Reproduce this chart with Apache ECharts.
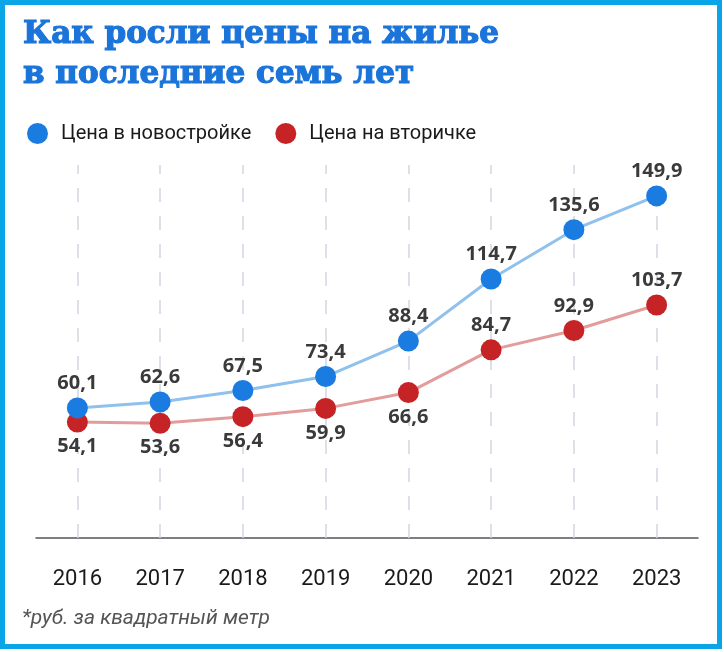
<!DOCTYPE html>
<html><head><meta charset="utf-8">
<script src="https://cdn.jsdelivr.net/npm/echarts@6/dist/echarts.min.js"></script>
<style>
html,body{margin:0;padding:0;background:#fff;}
#chart{position:absolute;left:0;top:0;width:724px;height:652px;}
#frame{position:absolute;left:0;top:0;width:712px;height:639px;border:5px solid #0aa5e6;pointer-events:none;}
</style></head>
<body>
<div id="chart"></div>
<div id="frame"></div>
<script>
const years = ['2016','2017','2018','2019','2020','2021','2022','2023'];
const newBuild = [60.1, 62.6, 67.5, 73.4, 88.4, 114.7, 135.6, 149.9];
const secondary = [54.1, 53.6, 56.4, 59.9, 66.6, 84.7, 92.9, 103.7];
const redLabelBelow = [true, true, true, true, true, false, false, false];
const titleText = 'Как росли цены на жилье\nв последние семь лет';
const seriesNames = ['Цена в новостройке', 'Цена на вторичке'];
const footnote = '*руб. за квадратный метр';

const fmt = v => String(v).replace('.', ',');
const sansFont = 'Roboto, "Noto Sans", sans-serif';
const labelFont = {fontFamily:'Open Sans', fontWeight:'bold', fontSize:20, color:'#3a3a3a'};

const chart = echarts.init(document.getElementById('chart'));
chart.setOption({
  backgroundColor:'#fff',
  animation:false,
  title:{
    text:titleText, left:18, top:10,
    textStyle:{fontFamily:'DejaVu Serif', fontWeight:'bold', fontSize:31, lineHeight:40, color:'#1a74da',
      textBorderColor:'#1a74da', textBorderWidth:1.2}
  },
  legend:{
    left:22, top:118, itemWidth:21, itemHeight:21, itemGap:24, icon:'circle',
    textStyle:{fontFamily:sansFont, fontSize:20, color:'#1a1a1a', padding:[0,0,0,8]},
    data:seriesNames
  },
  graphic:[{
    type:'text', left:22, top:608,
    style:{text:footnote, fontFamily:sansFont, fontStyle:'italic', fontSize:21, fill:'#555'}
  }],
  grid:{left:36, right:26, top:165, bottom:114},
  xAxis:{
    type:'category', data:years, boundaryGap:true,
    axisLine:{lineStyle:{color:'#555', width:1.5}},
    axisTick:{show:false},
    axisLabel:{margin:30, fontFamily:sansFont, fontSize:22, color:'#1a1a1a'},
    splitLine:{show:false}
  },
  yAxis:{type:'value', min:5, max:163, show:false, splitLine:{show:false}},
  series:[
    {
      name:'grid', type:'line', data:[], z:1, silent:true,
      markLine:{
        z:1, silent:true, symbol:'none', label:{show:false},
        lineStyle:{color:'#d3d6e2', type:[14,14], width:1.5},
        data:years.map(y=>({xAxis:y}))
      }
    },
    {
      name:seriesNames[0], type:'line', data:newBuild, symbol:'circle', symbolSize:21,
      itemStyle:{color:'#1a7be0'}, lineStyle:{color:'#8fc1ec', width:3}, z:3,
      label:{show:true, position:'top', distance:4, formatter:p=>fmt(p.value), ...labelFont}
    },
    {
      name:seriesNames[1], type:'line', symbol:'circle', symbolSize:21,
      itemStyle:{color:'#c62326'}, lineStyle:{color:'#e39c9c', width:3}, z:2,
      data:secondary.map((v,i)=>({value:v, label:{position: redLabelBelow[i] ? 'bottom' : 'top'}})),
      label:{show:true, distance:4, formatter:p=>fmt(p.value), ...labelFont}
    }
  ]
});
</script>
</body></html>
